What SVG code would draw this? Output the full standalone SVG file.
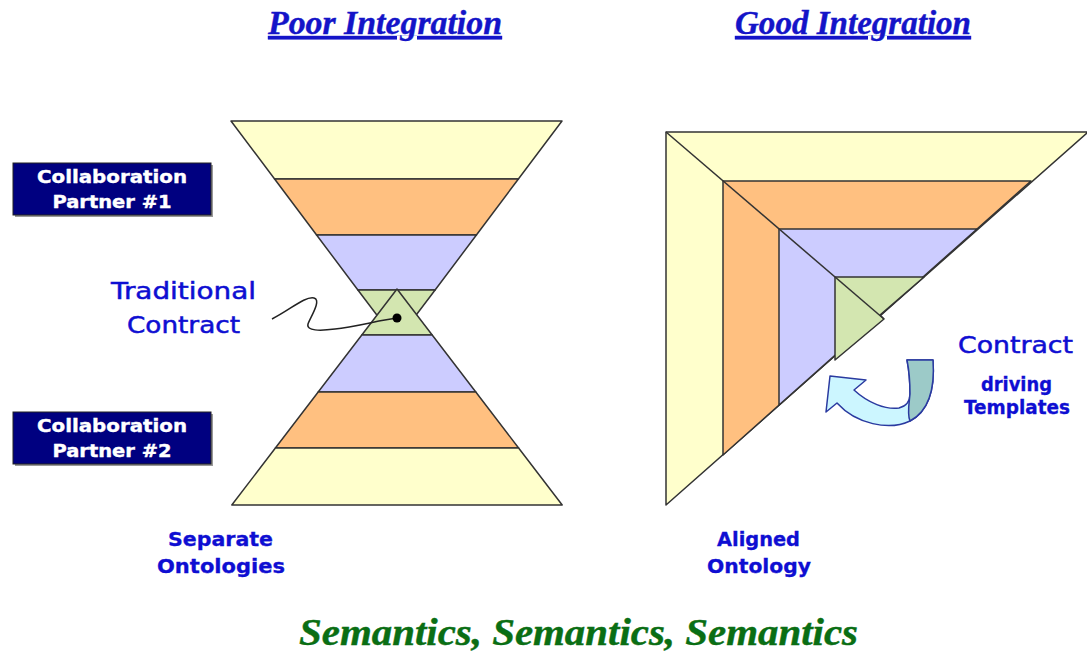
<svg xmlns="http://www.w3.org/2000/svg" width="1087" height="653" viewBox="0 0 1087 653">
<style>
.band{stroke:#333;stroke-width:1.5;stroke-linejoin:round}
.y{fill:#ffffcc}.o{fill:#ffc080}.b{fill:#ccccff}.g{fill:#d3e6b0}
.title{font-family:"Liberation Serif",serif;font-weight:bold;font-style:italic;font-size:33px;fill:#1414c8;stroke:#1414c8;stroke-width:0.4;text-decoration:underline}
.sem{font-family:"Liberation Serif",serif;font-weight:bold;font-style:italic;font-size:37px;fill:#0a6e14;stroke:#0a6e14;stroke-width:0.4}
.box{fill:#000080;stroke:#222;stroke-width:1}
.boxt{font-family:"DejaVu Sans",Verdana,sans-serif;font-weight:bold;font-size:18px;fill:#fff;stroke:#fff;stroke-width:0.4;text-anchor:middle}
.lbl{font-family:"DejaVu Sans",Verdana,sans-serif;font-size:23px;fill:#0e0ed2;stroke:#0e0ed2;stroke-width:0.5}
.lblb{font-family:"DejaVu Sans",Verdana,sans-serif;font-weight:bold;font-size:19px;fill:#0e0ed2;stroke:#0e0ed2;stroke-width:0.3}
</style>
<rect width="1087" height="653" fill="#fff"/>

<g id="titles">
<text class="title" x="268" y="34" textLength="234" lengthAdjust="spacingAndGlyphs">Poor Integration</text>
<text class="title" x="735" y="34" textLength="236" lengthAdjust="spacingAndGlyphs">Good Integration</text>
</g>

<g id="hourglass-top">
<polygon class="band y" points="231,121 562,121 518.4,179 274.6,179"/>
<polygon class="band o" points="274.6,179 518.4,179 476.4,235 316.6,235"/>
<polygon class="band b" points="316.6,235 476.4,235 435.1,290 357.9,290"/>
<polygon class="band g" points="357.9,290 435.1,290 396.5,341"/>
</g>

<g id="hourglass-bottom">
<polygon class="band g" points="397,289 432.2,335 361.8,335"/>
<polygon class="band b" points="361.8,335 432.2,335 475.8,392 318.2,392"/>
<polygon class="band o" points="318.2,392 475.8,392 518.6,448 275.4,448"/>
<polygon class="band y" points="275.4,448 518.6,448 562.2,505 231.8,505"/>
</g>

<g id="aligned">
<polygon class="band y" points="666,132 1088,132 666,505"/>
<polygon class="band o" points="723,181 1031,181 723,455"/>
<polygon class="band b" points="779,229 977,229 779,405"/>
<polygon class="band g" points="835,277 924,277 880,315 884,319 835,360"/>
<line class="band" x1="666" y1="132" x2="884" y2="319"/>
</g>

<g id="partner1">
<rect x="15" y="165" width="198" height="52" fill="#999"/>
<rect class="box" x="13" y="163" width="198" height="52"/>
<text class="boxt" x="112" y="183" textLength="150" lengthAdjust="spacingAndGlyphs">Collaboration</text>
<text class="boxt" x="112" y="208" textLength="119" lengthAdjust="spacingAndGlyphs">Partner #1</text>
</g>

<g id="partner2">
<rect x="15" y="414" width="198" height="52" fill="#999"/>
<rect class="box" x="13" y="412" width="198" height="52"/>
<text class="boxt" x="112" y="432" textLength="150" lengthAdjust="spacingAndGlyphs">Collaboration</text>
<text class="boxt" x="112" y="457" textLength="119" lengthAdjust="spacingAndGlyphs">Partner #2</text>
</g>

<g id="traditional-contract">
<text class="lbl" x="111" y="299" textLength="145" lengthAdjust="spacingAndGlyphs">Traditional</text>
<text class="lbl" x="127" y="333" textLength="113" lengthAdjust="spacingAndGlyphs">Contract</text>
</g>

<g id="connectors">
<path d="M272,319 C290,310 305,296 314,298 C322,300 310,318 308,324 C306,331 320,331 335,329 C355,327 380,320 397,318" fill="none" stroke="#222" stroke-width="1.5"/>
<circle cx="397" cy="318" r="4.5" fill="#000"/>
</g>

<g id="curved-arrow">
<path d="M830,376 L866,380 L854,390 C868,403 886,410 899,408 C907,406 910,400 910,394 C910,382 909,370 907,360 L933,360 C935,388 929,411 910,421 C889,431 856,424 837,403 L826,412 Z" fill="#ccf6ff" stroke="#2a3aa0" stroke-width="1.5" stroke-linejoin="round"/>
<path d="M907,360 L933,360 C935,388 929,411 910,421 C907,414 909,404 910,394 C910,382 909,370 907,360 Z" fill="#9ccac8" stroke="#2a3aa0" stroke-width="1.5" stroke-linejoin="round"/>
</g>

<g id="contract-right">
<text class="lbl" x="958" y="353" textLength="115" lengthAdjust="spacingAndGlyphs">Contract</text>
<text class="lblb" x="981" y="391" textLength="71" lengthAdjust="spacingAndGlyphs">driving</text>
<text class="lblb" x="964" y="414" textLength="106" lengthAdjust="spacingAndGlyphs">Templates</text>
</g>

<g id="separate">
<text class="lblb" x="168" y="546" textLength="105" lengthAdjust="spacingAndGlyphs">Separate</text>
<text class="lblb" x="157" y="573" textLength="128" lengthAdjust="spacingAndGlyphs">Ontologies</text>
</g>

<g id="aligned-label">
<text class="lblb" x="717" y="546" textLength="83" lengthAdjust="spacingAndGlyphs">Aligned</text>
<text class="lblb" x="707" y="573" textLength="104" lengthAdjust="spacingAndGlyphs">Ontology</text>
</g>

<g id="semantics">
<text class="sem" x="299" y="645" textLength="559" lengthAdjust="spacingAndGlyphs">Semantics, Semantics, Semantics</text>
</g>
</svg>
